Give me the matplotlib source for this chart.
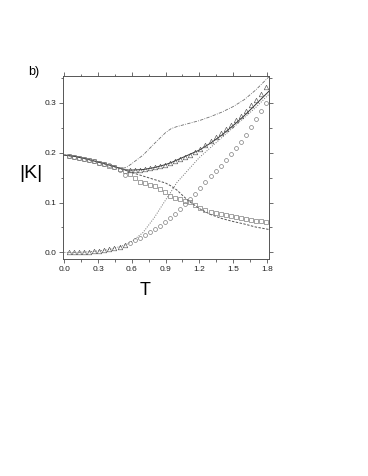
import matplotlib
matplotlib.use('Agg')
import matplotlib.pyplot as plt
from matplotlib.ticker import MultipleLocator

plt.rcParams['font.family'] = ['Liberation Sans', 'DejaVu Sans']

# temperatura de las curvas
T_line = [0.0, 0.1, 0.2, 0.3, 0.4, 0.5, 0.55, 0.6, 0.7, 0.8, 0.9, 0.95, 1.0,
          1.1, 1.2, 1.3, 1.4, 1.5, 1.6, 1.7, 1.82]
K_solid = [0.195, 0.192, 0.187, 0.181, 0.175, 0.168, 0.165, 0.165, 0.166, 0.170,
           0.176, 0.180, 0.185, 0.195, 0.205, 0.219, 0.235, 0.254, 0.274, 0.296, 0.323]
K_dashed = [0.195, 0.192, 0.187, 0.181, 0.175, 0.168, 0.164, 0.160, 0.153, 0.146,
            0.139, 0.133, 0.125, 0.104, 0.088, 0.076, 0.068, 0.062, 0.057, 0.051, 0.046]
K_dotted = [0.0, 0.0, 0.001, 0.003, 0.006, 0.012, 0.016, 0.022, 0.040, 0.070,
            0.105, 0.122, 0.140, 0.165, 0.190, 0.210, 0.230, 0.250, 0.270, 0.290, 0.317]
K_dashdot = [0.195, 0.192, 0.187, 0.181, 0.175, 0.168, 0.170, 0.178, 0.195, 0.218,
             0.240, 0.248, 0.252, 0.258, 0.264, 0.272, 0.281, 0.292, 0.306, 0.325, 0.352]

# puntos (simbolos)
T_pts = [0.04, 0.085, 0.13, 0.175, 0.22, 0.265, 0.31, 0.355, 0.40, 0.445, 0.49,
         0.535, 0.58, 0.625, 0.67, 0.715, 0.76, 0.805, 0.85, 0.895, 0.94, 0.985,
         1.03, 1.075, 1.12, 1.165, 1.21, 1.255, 1.30, 1.345, 1.39, 1.435, 1.48,
         1.525, 1.57, 1.615, 1.66, 1.705, 1.75, 1.795]
K_tri = [0.0, 0.0, 0.0, 0.001, 0.001, 0.002, 0.003, 0.004, 0.006, 0.008, 0.011,
         0.015, 0.165, 0.165, 0.166, 0.167, 0.169, 0.171, 0.173, 0.176, 0.179, 0.183,
         0.187, 0.191, 0.195, 0.201, 0.208, 0.216, 0.223, 0.231, 0.239, 0.247, 0.256,
         0.265, 0.274, 0.284, 0.295, 0.306, 0.318, 0.332]
K_circ = [0.194, 0.192, 0.190, 0.188, 0.186, 0.183, 0.180, 0.178, 0.175, 0.172, 0.165,
          0.155, 0.018, 0.024, 0.029, 0.034, 0.040, 0.047, 0.053, 0.061, 0.068, 0.077,
          0.087, 0.097, 0.108, 0.118, 0.130, 0.142, 0.153, 0.163, 0.174, 0.186, 0.197,
          0.209, 0.222, 0.236, 0.251, 0.267, 0.283, 0.300]
K_sq = [0.194, 0.192, 0.190, 0.188, 0.185, 0.183, 0.180, 0.177, 0.174, 0.171, 0.168,
        0.164, 0.158, 0.150, 0.142, 0.139, 0.136, 0.133, 0.127, 0.121, 0.114, 0.110,
        0.107, 0.104, 0.101, 0.096, 0.090, 0.085, 0.082, 0.079, 0.077, 0.075, 0.073,
        0.071, 0.068, 0.066, 0.065, 0.063, 0.062, 0.060]

gris = '#555555'
claro = '#707070'

fig = plt.figure(figsize=(3.68, 4.76), dpi=100)
ax = fig.add_axes([0.172, 0.456, 0.559, 0.385])

ax.plot(T_line, K_dashdot, color=claro, lw=0.6, ls=(0, (4, 1.5, 1, 1.5)))
ax.plot(T_line, K_solid, color='#333333', lw=0.7, ls='-')
ax.plot(T_line, K_dashed, color=gris, lw=0.7, ls=(0, (2.5, 1.5)))
ax.plot(T_line, K_dotted, color=claro, lw=0.7, ls=(0, (1, 1.5)))

ax.plot(T_pts, K_sq, ls='none', marker='s', ms=2.6, mfc='none', mec=claro, mew=0.45)
ax.plot(T_pts, K_circ, ls='none', marker='o', ms=2.8, mfc='none', mec=claro, mew=0.45)
ax.plot(T_pts, K_tri, ls='none', marker='^', ms=3.3, mfc='none', mec=gris, mew=0.45)

ax.set_xlim(-0.01, 1.82)
ax.set_ylim(-0.013, 0.354)
ax.xaxis.set_major_locator(MultipleLocator(0.3))
ax.xaxis.set_minor_locator(MultipleLocator(0.15))
ax.yaxis.set_major_locator(MultipleLocator(0.1))
ax.yaxis.set_minor_locator(MultipleLocator(0.05))
ax.xaxis.set_major_formatter(plt.FuncFormatter(lambda v, p: f'{v:.1f}'))
ax.yaxis.set_major_formatter(plt.FuncFormatter(lambda v, p: f'{v:.1f}'))
ax.tick_params(which='both', direction='out', top=True, right=True,
               color=gris, width=0.6, labelsize=6, labelcolor='#222222', pad=2)
ax.tick_params(which='major', length=3)
ax.tick_params(which='minor', length=1.8)
for s in ax.spines.values():
    s.set_color(gris)
    s.set_linewidth(0.7)

fig.text(0.092, 0.849, 'b)', fontsize=9, ha='center', va='center')
fig.text(0.085, 0.636, '|K|', fontsize=14, ha='center', va='center')
fig.text(0.394, 0.390, 'T', fontsize=13, ha='center', va='center')

plt.savefig('out.png', dpi=100)
